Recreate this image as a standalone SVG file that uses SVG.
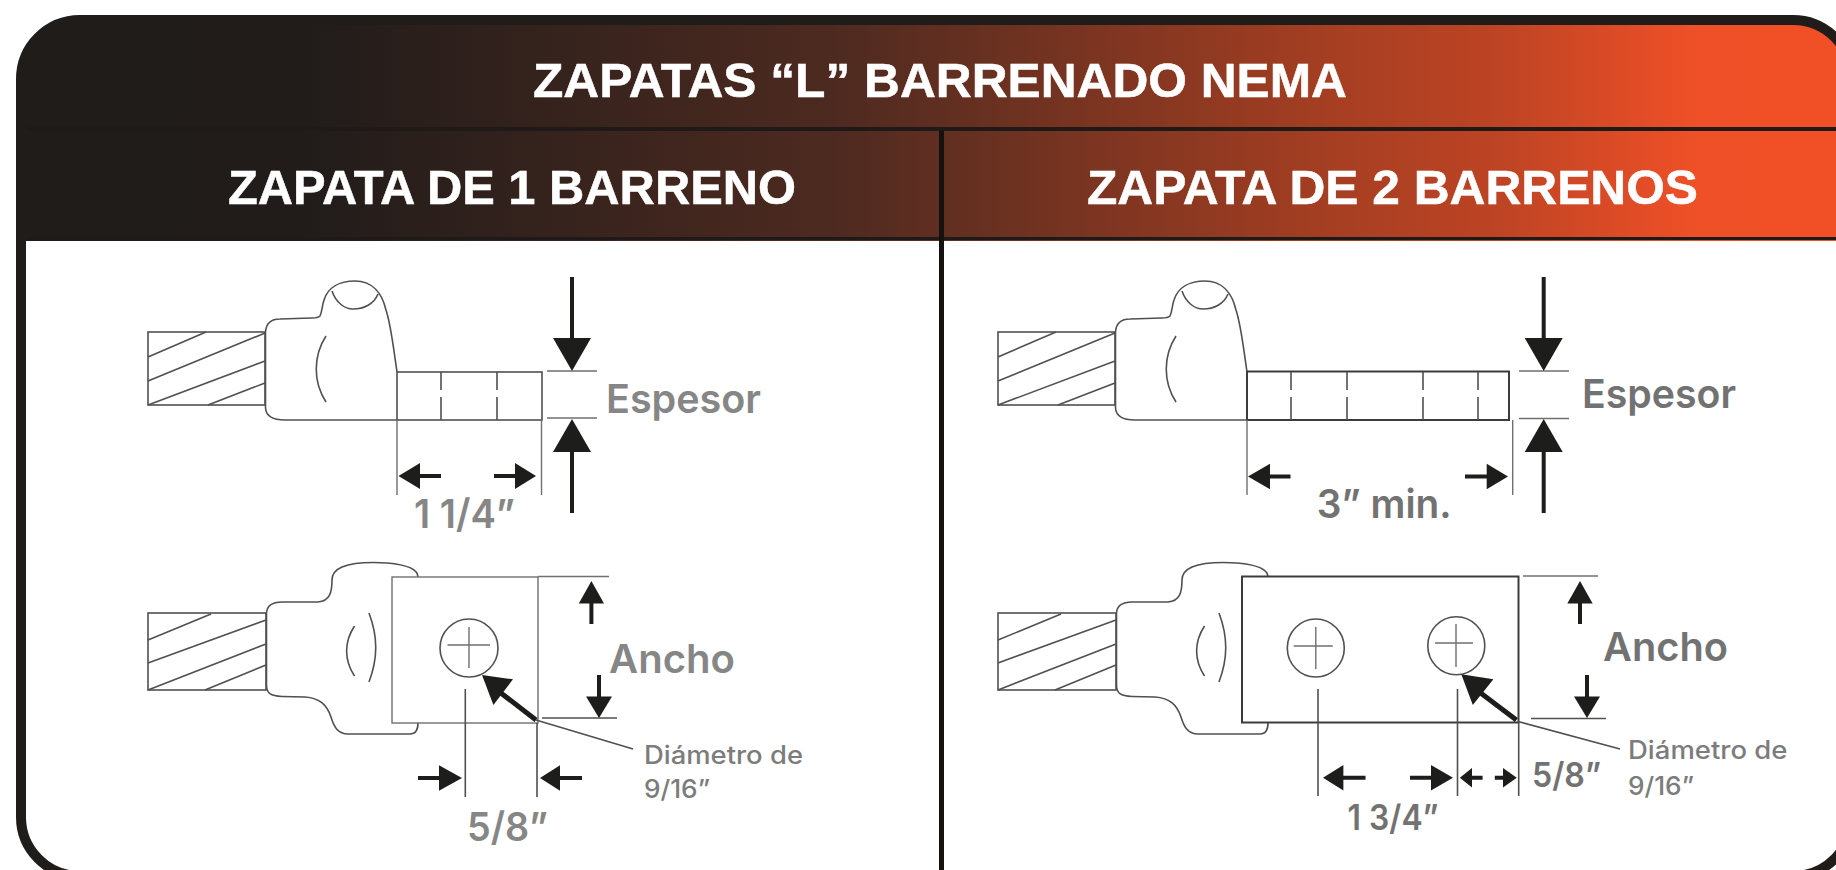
<svg xmlns="http://www.w3.org/2000/svg" xmlns:xlink="http://www.w3.org/1999/xlink" width="1836" height="870" viewBox="0 0 1836 870">
<style>
.ln{fill:none;stroke:#505050;stroke-width:1.6}
.lt{fill:none;stroke:#707070;stroke-width:1.4}
.ld{fill:none;stroke:#3c3c3c;stroke-width:2}
.sh{fill:none;stroke:#1d1d1b;stroke-linecap:butt}
.hd{fill:#1d1d1b}
.w{font-family:"Liberation Sans",Arial,sans-serif;font-weight:700;fill:#fff;stroke:#fff;stroke-width:.5}
.g{font-family:Inter,"Noto Sans",sans-serif;font-weight:600;fill:#868686;font-size:40px}
.g2{fill:#727272}
.s{font-family:Inter,"Noto Sans",sans-serif;font-weight:500;fill:#7c7c7c;font-size:25px}
</style>
<defs>
<linearGradient id="hg" gradientUnits="userSpaceOnUse" x1="16" y1="0" x2="1836" y2="0">
<stop offset="0" stop-color="#1f1c1a"/>
<stop offset="0.16" stop-color="#211c1a"/>
<stop offset="0.45" stop-color="#4d2a20"/>
<stop offset="0.73" stop-color="#a83f22"/>
<stop offset="0.815" stop-color="#bd4424"/>
<stop offset="0.925" stop-color="#f05027"/>
<stop offset="1" stop-color="#f15026"/>
</linearGradient>
<clipPath id="inner"><rect x="24" y="23" width="1825" height="850" rx="56"/></clipPath>
<g id="lugTop">
<rect class="ln" x="148" y="332" width="117" height="73"/>
<path class="ln" d="M148,357 L206,332 M148,381 L265,333 M148,405 L265,361 M208,405 L265,383"/>
<path class="ln" d="M397,372 C393,345 391,325 386,310 C382,293 372,281 355,281 C340,281 328,287 324,300 C322,306 322,312 320,316 C318,318 316,318 312,318 L280,319 C270,319 266,325 265.500,332 V408 C266,415 272,420 285,420 H397"/>
<path class="ln" d="M332,291 C336,303 345,309 353,309 C364,309 374,304 378,294"/>
<path class="ln" d="M326,336 C313,356 313,382 326,402"/>
</g>
<g id="lugBottom">
<rect class="ln" x="148" y="613" width="118" height="77"/>
<path class="ln" d="M148,640 L211,614 M148,663 L266,620 M148,690 L266,644 M205,690 L266,665"/>
<path class="ln" d="M418,577 C418,570 410,565 387,563 C370,562 352,563 342,567 C335,570 332,574 332,580 C332,592 330,601 318,602 L282,602 C272,602 267,606 266.500,613 V686 C267,693 270,696 282,696.500 L305,697 C320,698 327,705 331,717 C334,727 338,734 348,734 H410 C416,734 418,730 418,723"/>
<path class="ln" d="M354.500,626 C344,642 344,660 354.500,676"/>
<path class="ln" d="M369,613 C378,637 378,658 369,682"/>
</g>
</defs>

<rect x="21" y="20" width="1831" height="856" rx="59" fill="#fff"/>
<g id="header" clip-path="url(#inner)">
<rect x="16" y="20" width="1830" height="221" fill="url(#hg)"/>
<rect x="16" y="127" width="1830" height="4" fill="#1f1917"/>
<rect x="16" y="237" width="1830" height="3" fill="#1f1917"/>
<rect x="939" y="131" width="5" height="745" fill="#14110f"/>
<text class="w" x="533" y="97" font-size="49" textLength="814" lengthAdjust="spacingAndGlyphs">ZAPATAS “L” BARRENADO NEMA</text>
<text class="w" x="228" y="204" font-size="49" textLength="568" lengthAdjust="spacingAndGlyphs">ZAPATA DE 1 BARRENO</text>
<text class="w" x="1087" y="204" font-size="49" textLength="611" lengthAdjust="spacingAndGlyphs">ZAPATA DE 2 BARRENOS</text>
</g>
<rect id="frame" x="21" y="20" width="1831" height="856" rx="59" fill="none" stroke="#1f1c1a" stroke-width="10"/>

<g id="lug-1-side">
<use href="#lugTop"/>
<rect class="ln" x="397" y="372" width="145" height="48"/>
<path class="ln" d="M441,372 V390 M441,397 V420 M497,372 V390 M497,397 V420"/>
<path class="lt" d="M397,420 V495 M541.500,420 V495 M547,371 H597 M547,418 H597"/>
<path class="sh" stroke-width="4" d="M572,277 V340 M572,450 V513 M419,476 H441 M494,476 H516"/>
<polygon class="hd" points="553,338 591,338 572,371"/>
<polygon class="hd" points="553,452 591,452 572,419"/>
<polygon class="hd" points="398.500,476 420,463 420,489"/>
<polygon class="hd" points="536,476 515,463 515,489"/>
<text class="g" x="606" y="413" textLength="155" lengthAdjust="spacingAndGlyphs">Espesor</text>
<text class="g" x="414" y="528" textLength="101" lengthAdjust="spacingAndGlyphs">1 1/4”</text>
</g>

<g id="lug-1-top">
<use href="#lugBottom"/>
<rect class="lt" x="392" y="577" width="146" height="146"/>
<circle class="ln" cx="469" cy="648" r="29"/>
<path class="lt" d="M447.500,645 H490 M469,627 V668"/>
<path class="lt" d="M538,576.500 H609" stroke="#aaa"/>
<path class="ln" d="M542,718 H617 M465.300,689 V797 M537,723 V797 M536,720 L633,749"/>
<path class="sh" stroke-width="4" d="M591.400,602 V624 M599,675 V698 M418,778 H440 M560,778 H582"/>
<path class="sh" stroke-width="5" d="M497,690 L536,720"/>
<polygon class="hd" points="591.400,581 578.800,603.500 604,603.500"/>
<polygon class="hd" points="599,718 586,696.500 612,696.500"/>
<polygon class="hd" points="482,675 513,679.300 493.400,705"/>
<polygon class="hd" points="462,778 439,765.300 439,790.700"/>
<polygon class="hd" points="540,778 560,765.300 560,790.700"/>
<text class="g" x="609" y="673" textLength="126" lengthAdjust="spacingAndGlyphs">Ancho</text>
<text class="g" x="467" y="841" textLength="81" lengthAdjust="spacingAndGlyphs">5/8”</text>
<text class="s" x="644" y="764" textLength="159" lengthAdjust="spacingAndGlyphs">Diámetro de</text>
<text class="s" x="644" y="798" textLength="66" lengthAdjust="spacingAndGlyphs">9/16”</text>
</g>

<g id="lug-2-side">
<use href="#lugTop" x="850"/>
<rect class="ld" x="1247" y="371.500" width="262" height="48.500"/>
<path class="ln" d="M1291,372 V390 M1291,397 V420 M1347,372 V390 M1347,397 V420 M1423,372 V390 M1423,397 V420 M1478,372 V390 M1478,397 V420"/>
<path class="lt" d="M1247,420 V495 M1512.700,420 V495 M1519,371 H1569 M1519,418.500 H1569"/>
<path class="sh" stroke-width="4" d="M1543.700,277 V340 M1543.700,450 V513 M1270,476.500 H1290.500 M1465,476.500 H1488"/>
<polygon class="hd" points="1524.700,338 1562.700,338 1543.700,371"/>
<polygon class="hd" points="1524.700,452 1562.700,452 1543.700,419"/>
<polygon class="hd" points="1248,476.500 1270,463.800 1270,489.200"/>
<polygon class="hd" points="1508,476.500 1486.700,463.800 1486.700,489.200"/>
<text class="g g2" x="1582" y="408" textLength="154" lengthAdjust="spacingAndGlyphs">Espesor</text>
<text class="g g2" x="1316.700" y="518" textLength="135" lengthAdjust="spacingAndGlyphs">3” min.</text>
</g>

<g id="lug-2-top">
<use href="#lugBottom" x="850"/>
<rect class="ld" x="1242" y="576.500" width="276.500" height="146"/>
<ellipse class="ln" cx="1315.800" cy="648" rx="28.500" ry="29"/>
<ellipse class="ln" cx="1456.300" cy="645.700" rx="28.500" ry="29"/>
<path class="lt" d="M1293.700,646 H1332.800 M1315.800,627 V669 M1435,643 H1473 M1456,624 V667"/>
<path class="lt" d="M1523,576 H1598"/>
<path class="ln" d="M1531,718.500 H1606 M1318,689 V796 M1457.500,689 V796 M1518.700,723 V796 M1518,721.500 L1620,749"/>
<path class="sh" stroke-width="4" d="M1580,602 V624 M1587,675 V698 M1343,777.700 H1365.500 M1410,777.700 H1432 M1472,777.700 H1482.600 M1494.800,777.700 H1504"/>
<path class="sh" stroke-width="5" d="M1478,691 L1516.400,720"/>
<polygon class="hd" points="1580,581 1567.300,603.500 1592.700,603.500"/>
<polygon class="hd" points="1587,718 1574,696.500 1600,696.500"/>
<polygon class="hd" points="1461.300,674.300 1493.400,679.300 1472.800,705"/>
<polygon class="hd" points="1323,777.700 1343.400,765 1343.400,790.400"/>
<polygon class="hd" points="1453,777.700 1431,765 1431,790.400"/>
<polygon class="hd" points="1459.800,777.700 1472,768 1472,787.400"/>
<polygon class="hd" points="1516.800,777.700 1503,768 1503,787.400"/>
<text class="g g2" x="1603" y="660.700" textLength="125" lengthAdjust="spacingAndGlyphs">Ancho</text>
<text class="g g2" x="1532" y="787" style="font-size:34px" textLength="69" lengthAdjust="spacingAndGlyphs">5/8”</text>
<text class="g g2" x="1347.600" y="830" style="font-size:35px" textLength="91" lengthAdjust="spacingAndGlyphs">1 3/4”</text>
<text class="s g2" x="1628" y="759" textLength="159.500" lengthAdjust="spacingAndGlyphs">Diámetro de</text>
<text class="s g2" x="1628" y="795" textLength="66" lengthAdjust="spacingAndGlyphs">9/16”</text>
</g>
</svg>
